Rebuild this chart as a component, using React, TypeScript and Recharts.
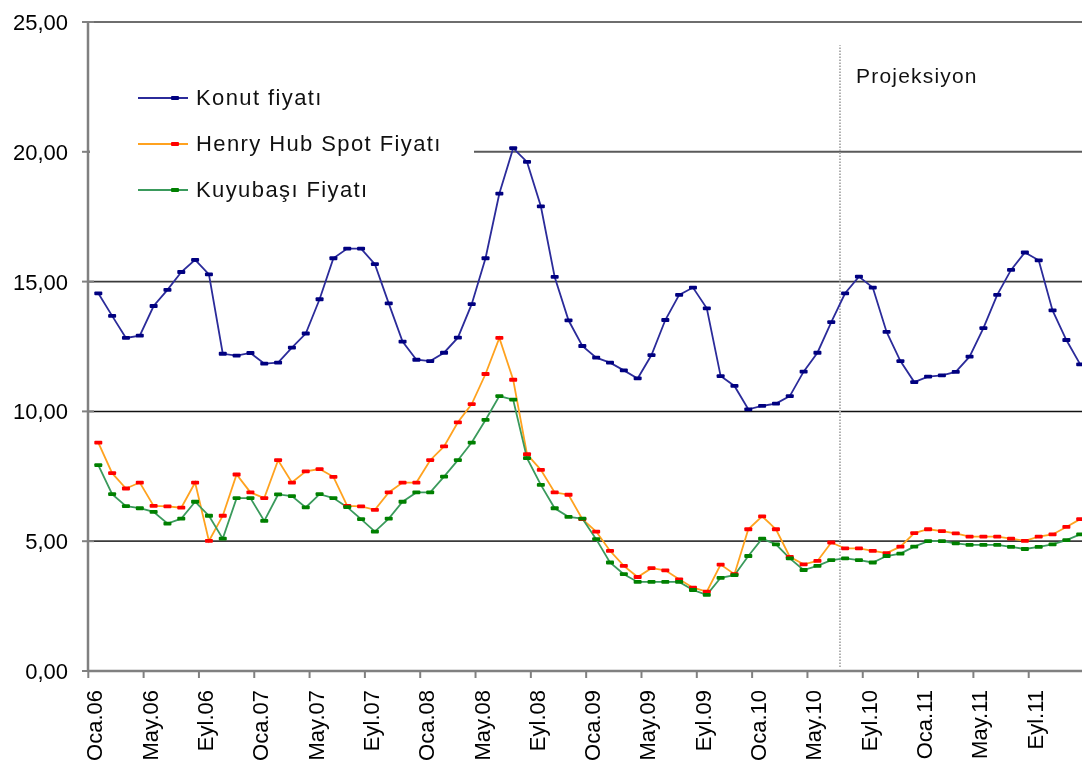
import React from 'react';
import { LineChart, Line, XAxis, YAxis, ReferenceLine, Legend, Customized } from 'recharts';

// Monthly categories Oca.06 .. Ara.11
const monthNames = ['Oca', 'Şub', 'Mar', 'Nis', 'May', 'Haz', 'Tem', 'Ağu', 'Eyl', 'Eki', 'Kas', 'Ara'];
const yearNames = ['06', '07', '08', '09', '10', '11'];
const categories: string[] = yearNames.flatMap((y) => monthNames.map((m) => `${m}.${y}`));

const tickLabels = [
  'Oca.06', 'May.06', 'Eyl.06', 'Oca.07', 'May.07', 'Eyl.07', 'Oca.08', 'May.08', 'Eyl.08',
  'Oca.09', 'May.09', 'Eyl.09', 'Oca.10', 'May.10', 'Eyl.10', 'Oca.11', 'May.11', 'Eyl.11',
];
const yTicks = [0, 5, 10, 15, 20, 25];

const konutFiyati = [
  14.55, 13.68, 12.83, 12.92, 14.06, 14.68, 15.37, 15.84, 15.28, 12.22, 12.15, 12.25,
  11.84, 11.88, 12.46, 13.0, 14.32, 15.9, 16.27, 16.27, 15.67, 14.16, 12.69, 11.99,
  11.94, 12.26, 12.84, 14.13, 15.9, 18.39, 20.14, 19.61, 17.9, 15.18, 13.51, 12.52,
  12.07, 11.88, 11.58, 11.27, 12.17, 13.52, 14.49, 14.77, 13.97, 11.36, 10.98, 10.08,
  10.21, 10.3, 10.59, 11.53, 12.26, 13.44, 14.55, 15.19, 14.77, 13.06, 11.94, 11.13,
  11.34, 11.39, 11.52, 12.11, 13.21, 14.49, 15.45, 16.12, 15.82, 13.89, 12.75, 11.81,
];

const henryHub = [
  8.8, 7.62, 7.03, 7.26, 6.36, 6.34, 6.29, 7.26, 5.01, 5.98, 7.57, 6.88,
  6.66, 8.12, 7.26, 7.69, 7.78, 7.48, 6.36, 6.34, 6.21, 6.88, 7.26, 7.26,
  8.12, 8.65, 9.58, 10.28, 11.44, 12.83, 11.22, 8.35, 7.75, 6.88, 6.79, 5.85,
  5.37, 4.63, 4.05, 3.62, 3.96, 3.88, 3.53, 3.21, 3.06, 4.1, 3.73, 5.46,
  5.96, 5.46, 4.4, 4.11, 4.24, 4.95, 4.72, 4.72, 4.63, 4.54, 4.79, 5.31,
  5.46, 5.39, 5.3, 5.18, 5.18, 5.18, 5.1, 5.01, 5.18, 5.26, 5.55, 5.85,
];

const kuyubasi = [
  7.93, 6.81, 6.35, 6.27, 6.13, 5.68, 5.87, 6.52, 5.98, 5.1, 6.66, 6.66,
  5.78, 6.8, 6.74, 6.3, 6.81, 6.66, 6.31, 5.85, 5.37, 5.87, 6.52, 6.88,
  6.88, 7.49, 8.12, 8.8, 9.67, 10.59, 10.45, 8.2, 7.17, 6.27, 5.94, 5.87,
  5.08, 4.18, 3.73, 3.43, 3.43, 3.43, 3.43, 3.12, 2.93, 3.59, 3.69, 4.43,
  5.1, 4.88, 4.34, 3.89, 4.05, 4.27, 4.34, 4.27, 4.18, 4.43, 4.52, 4.79,
  5.0, 5.0, 4.92, 4.86, 4.86, 4.86, 4.78, 4.7, 4.78, 4.88, 5.04, 5.26,
];

const projectionStart = 53.63; // between Haz.10 and Tem.10

const data = categories.map((c, i) => ({
  i,
  label: c,
  konut: konutFiyati[i],
  henry: henryHub[i],
  kuyu: kuyubasi[i],
}));

const tickIndexes = tickLabels.map((t) => categories.indexOf(t));

const FONT = '"Liberation Sans", Arial, sans-serif';

const series = [
  { key: 'konut', name: 'Konut fiyatı', line: '#2b2b9a', marker: '#000080' },
  { key: 'henry', name: 'Henry Hub Spot Fiyatı', line: '#ffa21f', marker: '#ff0000' },
  { key: 'kuyu', name: 'Kuyubaşı Fiyatı', line: '#3a9a5c', marker: '#008000' },
];

const makeDot = (color: string) => (props: any) => {
  const { cx, cy, index } = props;
  if (cx == null || cy == null) return <g key={`e-${index}`} />;
  return <rect key={`d-${index}`} x={cx - 4} y={cy - 1.9} width={8} height={3.8} rx={1} fill={color} />;
};

const XTick = (props: any) => {
  const { x, y, payload } = props;
  const label = categories[payload.value] ?? '';
  return (
    <g>
      <line x1={x - 10} x2={x - 10} y1={y} y2={y + 7} stroke="#808080" strokeWidth={2} />
      <text
        transform={`translate(${x + 4}, ${y + 19}) rotate(-90)`}
        textAnchor="end"
        fontFamily={FONT}
        fontSize={22}
        fill="#000"
      >
        {label}
      </text>
    </g>
  );
};

const YTick = (props: any) => {
  const { x, y, payload } = props;
  const txt = Number(payload.value).toFixed(2).replace('.', ',');
  return (
    <g>
      <line x1={x - 6} x2={x + 6} y1={y} y2={y} stroke="#808080" strokeWidth={2} />
      <text x={x - 20} y={y} dy="0.36em" textAnchor="end" fontFamily={FONT} fontSize={22} fill="#000">
        {txt}
      </text>
    </g>
  );
};

const LegendBox = () => (
  <div
    style={{
      background: '#fff',
      width: 384,
      height: 194,
      position: 'relative',
      fontFamily: FONT,
    }}
  >
    {series.map((s, k) => (
      <div
        key={s.key}
        style={{
          position: 'absolute',
          left: 0,
          top: 60 + k * 46 - 15,
          height: 30,
          display: 'flex',
          alignItems: 'center',
          whiteSpace: 'nowrap',
        }}
      >
        <svg width={106} height={30} style={{ display: 'block' }}>
          <line x1={48} x2={98} y1={15} y2={15} stroke={s.line} strokeWidth={2} />
          <rect x={81} y={13.1} width={8} height={3.8} rx={1} fill={s.marker} />
        </svg>
        <span style={{ fontSize: 22, letterSpacing: 1.4, color: '#111', lineHeight: '30px' }}>{s.name}</span>
      </div>
    ))}
  </div>
);

const ProjectionLabel = () => (
  <text x={848} y={75} fontFamily={FONT} fontSize={21} letterSpacing={1.2} fill="#111">
    Projeksiyon
  </text>
);

export default function App() {
  return (
    <div style={{ position: 'fixed', left: 8, top: 8, width: 1074, height: 757 }}>
      <style>{'html, body { margin: 0; padding: 0; overflow: hidden; }'}</style>
      <LineChart
        width={1074}
        height={757}
        data={data}
        margin={{ top: 14, right: 0, bottom: 0, left: 0 }}
      >
        <XAxis
          dataKey="i"
          type="number"
          domain={[-0.745, 71.13]}
          allowDataOverflow
          ticks={tickIndexes}
          interval={0}
          tick={<XTick />}
          tickLine={false}
          tickSize={0}
          tickMargin={0}
          height={94}
          axisLine={{ stroke: '#808080', strokeWidth: 2.5 }}
        />
        <YAxis
          type="number"
          domain={[0, 25]}
          ticks={yTicks}
          interval={0}
          width={80}
          tick={<YTick />}
          tickLine={false}
          tickSize={0}
          tickMargin={0}
          axisLine={{ stroke: '#808080', strokeWidth: 2.5 }}
        />
        <ReferenceLine y={25} stroke="#6e6e6e" strokeWidth={2} />
        <ReferenceLine y={20} stroke="#5a5a5a" strokeWidth={2} />
        <ReferenceLine y={15} stroke="#3a3a3a" strokeWidth={1.8} />
        <ReferenceLine y={10} stroke="#111" strokeWidth={1.5} />
        <ReferenceLine y={5} stroke="#3a3a3a" strokeWidth={1.8} />
        <ReferenceLine
          segment={[
            { x: projectionStart, y: 0.15 },
            { x: projectionStart, y: 24.1 },
          ]}
          stroke="#b0b0b0"
          strokeWidth={2}
          strokeDasharray="1.5 1.5"
        />
        <Customized component={ProjectionLabel} />
        {series.map((s) => (
          <Line
            key={s.key}
            type="linear"
            dataKey={s.key}
            name={s.name}
            stroke={s.line}
            strokeWidth={1.8}
            dot={makeDot(s.marker)}
            activeDot={false}
            isAnimationActive={false}
          />
        ))}
        <Legend
          layout="horizontal"
          verticalAlign="middle"
          align="center"
          content={() => <LegendBox />}
          wrapperStyle={{ left: 82, top: 30, width: 384, height: 194 }}
        />
      </LineChart>
    </div>
  );
}
